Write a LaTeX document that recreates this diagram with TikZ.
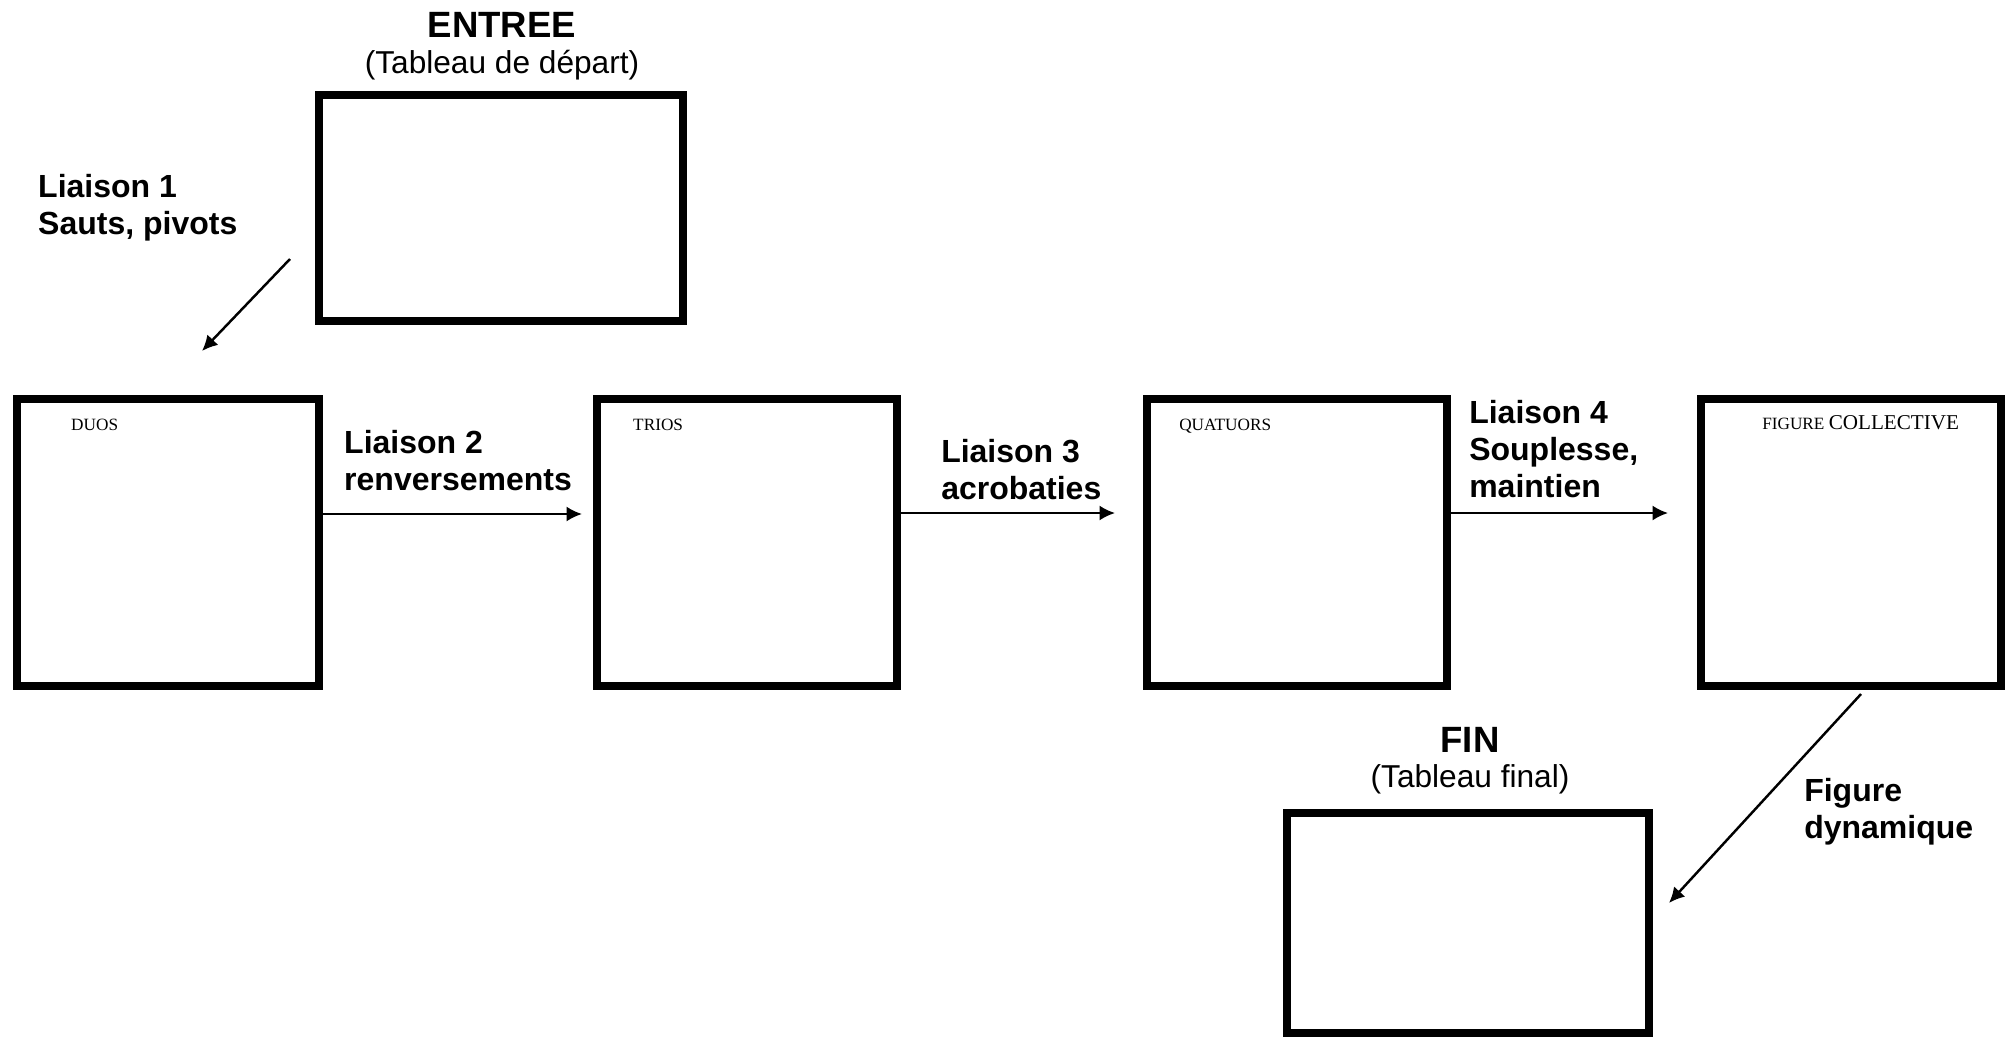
\documentclass[tikz,border=0pt]{standalone}
\usepackage{fontspec}
\setmainfont{Liberation Serif}
\setsansfont{Liberation Sans}
\usetikzlibrary{arrows.meta}
\tikzstyle{cadre} = [draw=black,rectangle,line width=2.3pt,minimum width=3cm,minimum height=2.87cm,inner sep=0pt]
\tikzstyle{nom} = [font=\fontsize{4.9}{5}\selectfont,inner sep=0pt,anchor=base west]
\tikzstyle{liaison} = [align=left,font=\sffamily\bfseries\fontsize{9.1}{10.4}\selectfont,inner sep=0pt,anchor=base west]
\tikzstyle{titre} = [font=\sffamily\bfseries\fontsize{10.4}{12}\selectfont,inner sep=0pt,anchor=base]
\tikzstyle{soustitre} = [font=\sffamily\fontsize{9}{10}\selectfont,inner sep=0pt,anchor=base]

\begin{document}
\begin{tikzpicture}[x=0.01cm,y=-0.01cm,line width=0.7pt,>={Latex[length=4.4pt,width=4.3pt]}]
				\useasboundingbox (0,0) rectangle (2013,1039);
				% tableaux
				\node (entree) [cadre,minimum width=3.64cm,minimum height=2.26cm] at (501,208) {};
				\node (duos) [cadre,minimum width=3.02cm] at (168,542.5) {};
				\node (trios) [cadre] at (747,542.5) {};
				\node (quatuors) [cadre] at (1297,542.5) {};
				\node (collective) [cadre] at (1851,542.5) {};
				\node (fin) [cadre,minimum width=3.62cm,minimum height=2.2cm] at (1468,923) {};
				% titres
				\node (entreeT) [titre] at (502,37) {ENTREE};
				\node (entreeS) [soustitre] at (502,73) {(Tableau de départ)};
				\node (finT) [titre] at (1470,752) {FIN};
				\node (finS) [soustitre] at (1470,787) {(Tableau final)};
				\node (duosN) [nom] at (70,430) {DUOS};
				\node (triosN) [nom] at (632,430) {TRIOS};
				\node (quatuorsN) [nom] at (1178,430) {QUATUORS};
				\node (collectiveN) [nom] at (1761,429) {FIGURE {\fontsize{6}{6}\selectfont COLLECTIVE}};
				% liaisons (ancre sur la derniere ligne)
				\node (l1) [liaison] at (37,234) {Liaison 1\\Sauts, pivots};
				\node (l2) [liaison] at (343,490) {Liaison 2\\renversements};
				\node (l3) [liaison] at (940,499) {Liaison 3\\acrobaties};
				\node (l4) [liaison] at (1468,497) {Liaison 4\\Souplesse,\\maintien};
				\node (l5) [liaison] at (1803,838) {Figure\\dynamique};
				\coordinate (a1) at (290,259);
				\coordinate (b1) at (202,351);
				\coordinate (a2) at (323,514);
				\coordinate (b2) at (582,514);
				\coordinate (a3) at (901,513);
				\coordinate (b3) at (1115,513);
				\coordinate (a4) at (1451,513);
				\coordinate (b4) at (1668,513);
				\coordinate (a5) at (1861,694);
				\coordinate (b5) at (1669,903);
				\draw [->] (a1) -- (b1);
				\draw [->] (a2) -- (b2);
				\draw [->] (a3) -- (b3);
				\draw [->] (a4) -- (b4);
				\draw [->] (a5) -- (b5);
			\end{tikzpicture}
\end{document}
